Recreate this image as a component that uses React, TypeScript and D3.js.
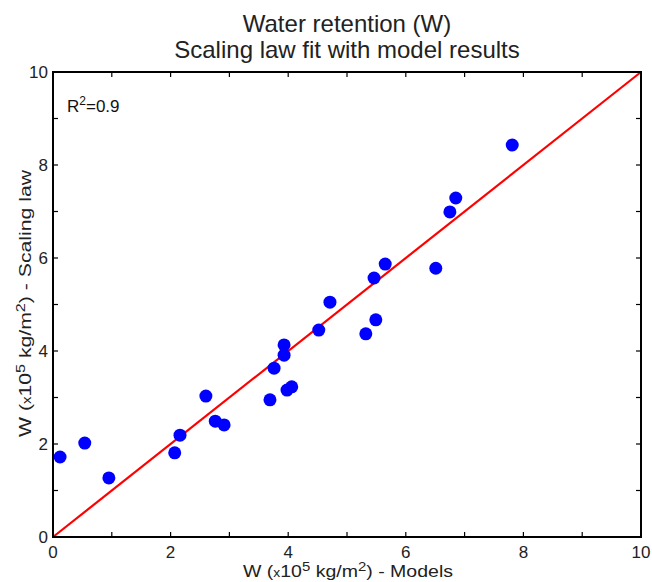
import React from "react";
import * as d3 from "d3";

const modelW = [0.12, 0.54, 0.95, 2.07, 2.16, 2.6, 2.76, 2.91, 3.69, 3.76, 3.93, 3.93, 3.98, 4.06, 4.52, 4.71, 5.32, 5.49, 5.46, 5.65, 6.51, 6.75, 6.85, 7.81];
const scalingW = [1.72, 2.02, 1.27, 1.81, 2.19, 3.03, 2.49, 2.41, 2.95, 3.63, 4.13, 3.91, 3.16, 3.23, 4.45, 5.05, 4.37, 4.67, 5.57, 5.87, 5.78, 6.99, 7.29, 8.43];
const fitLine = [0, 10];
const majorTicks = [0, 1, 2, 3, 4, 5, 6, 7, 8, 9, 10];
const labelTicks = [0, 2, 4, 6, 8, 10];
const titleLines = ["Water retention (W)", "Scaling law fit with model results"];

const W = 652, H = 582;
const L = 53, R = 641, T = 72, B = 537;
const font = "'Liberation Sans', Arial, Helvetica, sans-serif";

export default function App() {
  const x = d3.scaleLinear().domain([0, 10]).range([L, R]);
  const y = d3.scaleLinear().domain([0, 10]).range([B, T]);
  const line = d3.line<number>().x((d) => x(d)).y((d) => y(d));
  const tl = 5;
  return (
    <svg width={W} height={H} style={{ position: "absolute", left: 0, top: 0, background: "#fff" }} fontFamily={font}>
      <rect x={0} y={0} width={W} height={H} fill="#fff" />
      {titleLines.map((t, i) => (
        <text key={t} x={(L + R) / 2} y={32 + i * 26} textAnchor="middle" fontSize={24} fill="#222">{t}</text>
      ))}
      {majorTicks.map((v) => (
        <g key={"t" + v} stroke="#000" strokeWidth={1.2}>
          <line x1={x(v)} x2={x(v)} y1={B} y2={B - tl} />
          <line x1={x(v)} x2={x(v)} y1={T} y2={T + tl} />
          <line x1={L} x2={L + tl} y1={y(v)} y2={y(v)} />
          <line x1={R} x2={R - tl} y1={y(v)} y2={y(v)} />
        </g>
      ))}
      {labelTicks.map((v) => (
        <g key={"l" + v} fontSize={17} fill="#222">
          <text x={x(v)} y={B + 21} textAnchor="middle">{v}</text>
          <text x={L - 5} y={y(v) + 6} textAnchor="end">{v}</text>
        </g>
      ))}
      <path d={line(fitLine) || ""} stroke="#ff0000" strokeWidth={2.2} fill="none" />
      {modelW.map((m, i) => (
        <circle key={i} cx={x(m)} cy={y(scalingW[i])} r={6.5} fill="#0000ff" />
      ))}
      <rect x={L} y={T} width={R - L} height={B - T} fill="none" stroke="#000" strokeWidth={2} />
      <text x={67} y={112} fontSize={17} fill="#111">
        R<tspan dy={-7} fontSize={12}>2</tspan><tspan dy={7}>=0.9</tspan>
      </text>
      <text x={243} y={577} fontSize={17} fill="#222" textLength={210} lengthAdjust="spacingAndGlyphs">
        W (<tspan fontSize={12}>x</tspan>10<tspan dy={-6} fontSize={13}>5</tspan><tspan dy={6}> kg/m</tspan><tspan dy={-6} fontSize={13}>2</tspan><tspan dy={6}>) - Models</tspan>
      </text>
      <text transform={`translate(31,437) rotate(-90)`} fontSize={17} fill="#222" textLength={267} lengthAdjust="spacingAndGlyphs">
        W (<tspan fontSize={12}>x</tspan>10<tspan dy={-6} fontSize={13}>5</tspan><tspan dy={6}> kg/m</tspan><tspan dy={-6} fontSize={13}>2</tspan><tspan dy={6}>) - Scaling law</tspan>
      </text>
    </svg>
  );
}
